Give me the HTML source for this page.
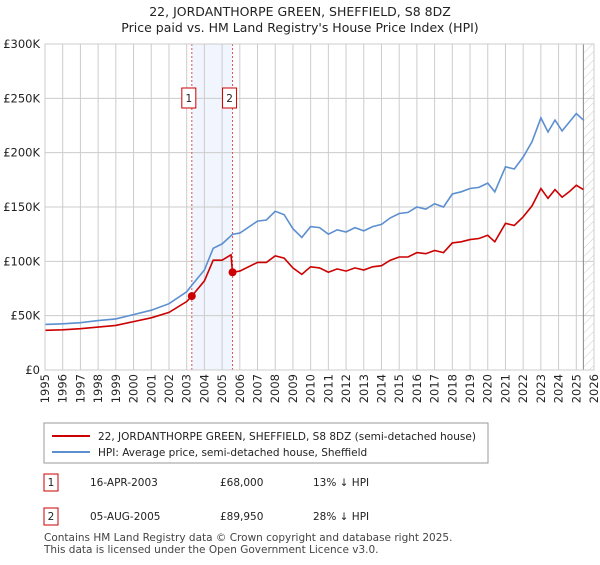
<!DOCTYPE html>
<html><head><meta charset="utf-8"><style>
body{margin:0;background:#fff;font-family:"Liberation Sans","DejaVu Sans",sans-serif;}
svg text{font-family:"DejaVu Sans","Liberation Sans",sans-serif;}
</style></head><body>
<svg width="600" height="560" viewBox="0 0 600 560">
<defs><pattern id="hatch" width="6" height="6" patternUnits="userSpaceOnUse" patternTransform="rotate(45)"><line x1="0" y1="0" x2="0" y2="6" stroke="#ccc" stroke-width="1"/></pattern></defs>
<text x="300" y="16" text-anchor="middle" font-size="12.5" fill="#222">22, JORDANTHORPE GREEN, SHEFFIELD, S8 8DZ</text>
<text x="300" y="32" text-anchor="middle" font-size="12.5" fill="#222">Price paid vs. HM Land Registry's House Price Index (HPI)</text>
<g id="plot"></g>
<g>
<rect x="44" y="423" width="444" height="40" fill="#fff" stroke="#999"/>
<line x1="52" y1="436" x2="90" y2="436" stroke="#cc0000" stroke-width="2"/>
<text x="98" y="440" font-size="10.5" fill="#222">22, JORDANTHORPE GREEN, SHEFFIELD, S8 8DZ (semi-detached house)</text>
<line x1="52" y1="452" x2="90" y2="452" stroke="#5b8fd0" stroke-width="2"/>
<text x="98" y="456" font-size="10.5" fill="#222">HPI: Average price, semi-detached house, Sheffield</text>
</g>
<g font-size="10.5" fill="#222">
<rect x="44" y="474" width="14" height="17" fill="#fff" stroke="#cc0000"/><text x="51" y="486" text-anchor="middle">1</text>
<text x="90" y="486">16-APR-2003</text><text x="220" y="486">£68,000</text><text x="313" y="486">13% ↓ HPI</text>
<rect x="44" y="508" width="14" height="17" fill="#fff" stroke="#cc0000"/><text x="51" y="520" text-anchor="middle">2</text>
<text x="90" y="520">05-AUG-2005</text><text x="220" y="520">£89,950</text><text x="313" y="520">28% ↓ HPI</text>
</g>
<text x="44" y="541" font-size="10.5" fill="#444">Contains HM Land Registry data © Crown copyright and database right 2025.</text>
<text x="44" y="553" font-size="10.5" fill="#444">This data is licensed under the Open Government Licence v3.0.</text>
</svg>
<script>
const yearTicks=[1995,1996,1997,1998,1999,2000,2001,2002,2003,2004,2005,2006,2007,2008,2009,2010,2011,2012,2013,2014,2015,2016,2017,2018,2019,2020,2021,2022,2023,2024,2025,2026];
const valueTicks=[0,50,100,150,200,250,300];
const valueTickLabels=["£0","£50K","£100K","£150K","£200K","£250K","£300K"];
const hpiDates=[1995,1996,1997,1998,1999,2000,2001,2002,2003,2003.29,2004,2004.5,2005,2005.6,2006,2007,2007.5,2008,2008.5,2009,2009.5,2010,2010.5,2011,2011.5,2012,2012.5,2013,2013.5,2014,2014.5,2015,2015.5,2016,2016.5,2017,2017.5,2018,2018.5,2019,2019.5,2020,2020.4,2021,2021.5,2022,2022.5,2023,2023.4,2023.8,2024.2,2024.6,2025,2025.4];
const hpiValues=[42,42.5,43.5,45.5,47,51,55,61,72,78,92,112,116,125,126,137,138,146,143,130,122,132,131,125,129,127,131,128,132,134,140,144,145,150,148,153,150,162,164,167,168,172,164,187,185,196,210,232,219,230,220,228,236,230];
const priceDates=[1995,1996,1997,1998,1999,2000,2001,2002,2003,2003.29,2004,2004.5,2005,2005.5,2005.59,2006,2007,2007.5,2008,2008.5,2009,2009.5,2010,2010.5,2011,2011.5,2012,2012.5,2013,2013.5,2014,2014.5,2015,2015.5,2016,2016.5,2017,2017.5,2018,2018.5,2019,2019.5,2020,2020.4,2021,2021.5,2022,2022.5,2023,2023.4,2023.8,2024.2,2024.6,2025,2025.4];
const priceValues=[36.5,37,38,39.5,41,44.5,48,53,63,68,82,101,101,106,89.95,91,99,99,105,103,94,88,95,94,90,93,91,94,92,95,96,101,104,104,108,107,110,108,117,118,120,121,124,118,135,133,141,151,167,158,166,159,164,170,166];
const saleDates=[2003.29,2005.59];
const saleValues=[68,89.95];
const saleLabels=["1","2"];
const L=45,R=594,T=44,B=370;
const xS=d=>L+(d-1995)/(2026-1995)*(R-L);
const yS=v=>B-v/300*(B-T);
const NS="http://www.w3.org/2000/svg";
const g=document.getElementById('plot');
function mk(t,a){const e=document.createElementNS(NS,t);for(const k in a)e.setAttribute(k,a[k]);g.appendChild(e);return e;}
let e=mk('rect',{x:xS(saleDates[0]),y:T,width:xS(saleDates[1])-xS(saleDates[0]),height:B-T,fill:'#eef3fc',opacity:0.8});


e=mk('rect',{x:xS(2025.4),y:T,width:R-xS(2025.4),height:B-T,fill:'url(#hatch)'});


yearTicks.forEach(y=>{const l=mk('line',{x1:xS(y),x2:xS(y),y1:T,y2:B,stroke:'#ccc'});


const t=mk('text',{x:0,y:0,'font-size':11.5,fill:'#222','text-anchor':'end',transform:`translate(${xS(y)+4},${B+4}) rotate(-90)`});t.textContent=y;

});
valueTicks.forEach((v,i)=>{const l=mk('line',{x1:L,x2:R,y1:yS(v),y2:yS(v),stroke:'#ccc'});


const t=mk('text',{x:40,y:yS(v)+4,'font-size':11.5,fill:'#222','text-anchor':'end'});t.textContent=valueTickLabels[i];

});
e=mk('line',{x1:xS(2025.4),x2:xS(2025.4),y1:T,y2:B,stroke:'#888'});


saleDates.forEach((d,i)=>{const l=mk('line',{x1:xS(d),x2:xS(d),y1:T,y2:B,stroke:'#e05050','stroke-dasharray':'2,2'});

});
function path(ds,vs,c,n){const p=mk('path',{d:ds.map((d,i)=>(i?'L':'M')+xS(d).toFixed(1)+','+yS(vs[i]).toFixed(1)).join(''),fill:'none',stroke:c,'stroke-width':1.6});

}
path(hpiDates,hpiValues,'#5b8fd0','hpi-line');
path(priceDates,priceValues,'#cc0000','price-line');
saleDates.forEach((d,i)=>{const c=mk('circle',{cx:xS(d),cy:yS(saleValues[i]),r:4,fill:'#cc0000'});


const r=mk('rect',{x:xS(d)-10,y:88,width:14,height:20,fill:'#fff',stroke:'#cc0000'});


const t=mk('text',{x:xS(d)-3,y:102,'font-size':10.5,'text-anchor':'middle',fill:'#222'});t.textContent=saleLabels[i];

});
e=mk('rect',{x:L,y:T,width:R-L,height:B-T,fill:'none',stroke:'#ccc'});


</script>
</body></html>
